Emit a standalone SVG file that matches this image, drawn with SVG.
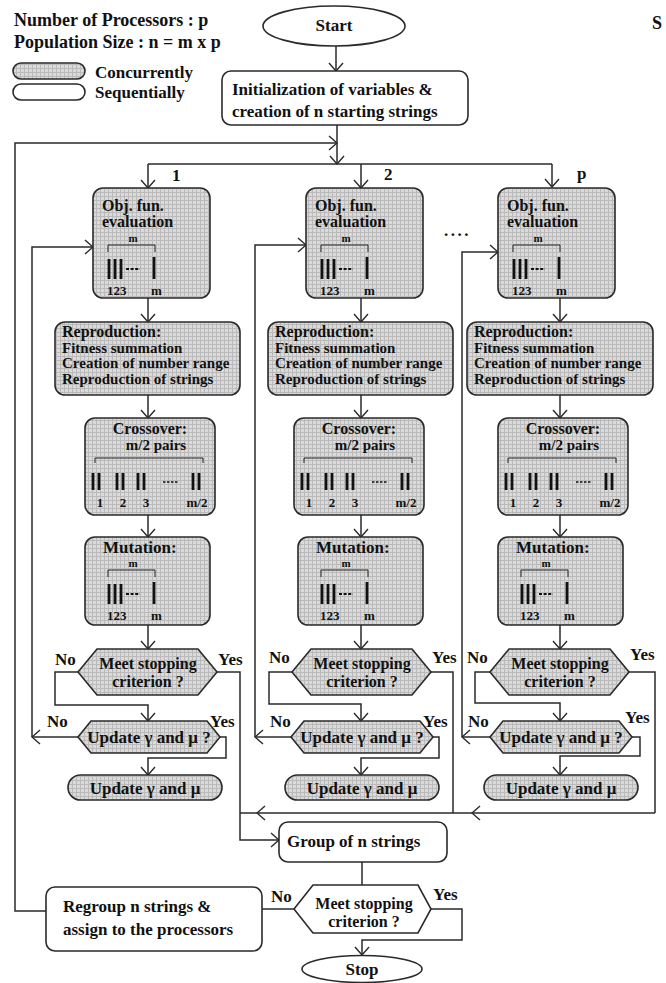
<svg xmlns="http://www.w3.org/2000/svg" xmlns:xlink="http://www.w3.org/1999/xlink" width="666" height="983" viewBox="0 0 666 983">
  <defs>
    <style>
      text { font-family: "Liberation Serif", "Times New Roman", serif; font-weight: bold; fill: #111; font-size: 17px; }
      .big { font-size: 18px; }
      .ttl { font-size: 16px; }
      .sub { font-size: 15px; }
      .tiny { font-size: 11px; }
      .num { font-size: 13px; }
      .mid { text-anchor: middle; }
      .conc { fill: url(#shade); stroke: #2a2a2a; stroke-width: 1.6; }
      .seq { fill: #fff; stroke: #2a2a2a; stroke-width: 1.6; }
      .ln { fill: none; stroke: #2a2a2a; stroke-width: 1.5; }
      .ar { marker-end: url(#ah); }
      .bar { stroke: #111; stroke-width: 2.8; }
      .thin { fill: none; stroke: #222; stroke-width: 1; }
    </style>
    <pattern id="shade" width="4" height="4" patternUnits="userSpaceOnUse">
      <rect width="4" height="4" fill="#dadada"/>
      <path d="M0,0.5H4M0.5,0V4" stroke="#bababa" stroke-width="1"/>
    </pattern>
    <marker id="ah" viewBox="0 0 10 16" refX="9" refY="8" markerWidth="10" markerHeight="16" markerUnits="userSpaceOnUse" orient="auto">
      <path d="M1,1 L9,8 L1,15" fill="none" stroke="#2a2a2a" stroke-width="1.4"/>
    </marker>
    <!-- m strings: bracket, bars 1..m and their indices -->
    <g id="mstr">
      <text class="tiny mid" x="25" y="-3">m</text>
      <path class="thin" d="M0,7V0H47V7"/>
      <line class="bar" x1="1" y1="14" x2="1" y2="34"/>
      <line class="bar" x1="7" y1="14" x2="7" y2="34"/>
      <line class="bar" x1="13" y1="14" x2="13" y2="34"/>
      <line x1="18" y1="24" x2="32" y2="24" stroke="#111" stroke-width="1.8" stroke-dasharray="3,1.6"/>
      <line class="bar" x1="46" y1="12" x2="46" y2="34"/>
      <text class="num" x="-1" y="50">123</text>
      <text class="num" x="43" y="50">m</text>
    </g>
    <!-- m/2 pairs of strings for crossover -->
    <g id="pstr">
      <path class="thin" d="M0,5V0H108V5"/>
      <line class="bar" x1="-2" y1="15" x2="-2" y2="32"/>
      <line class="bar" x1="4" y1="15" x2="4" y2="32"/>
      <line class="bar" x1="22" y1="15" x2="22" y2="32"/>
      <line class="bar" x1="28" y1="15" x2="28" y2="32"/>
      <line class="bar" x1="43" y1="15" x2="43" y2="32"/>
      <line class="bar" x1="49" y1="15" x2="49" y2="32"/>
      <line x1="68" y1="24" x2="83" y2="24" stroke="#111" stroke-width="1.6" stroke-dasharray="2.5,1.5"/>
      <line class="bar" x1="98" y1="15" x2="98" y2="32"/>
      <line class="bar" x1="104" y1="15" x2="104" y2="32"/>
      <text class="num mid" x="5" y="49">1</text>
      <text class="num mid" x="28" y="49">2</text>
      <text class="num mid" x="51" y="49">3</text>
      <text class="num mid" x="102" y="49">m/2</text>
    </g>
  </defs>

  <rect width="666" height="983" fill="#fff"/>

  <!-- legend -->
  <g id="legend">
    <text class="big" x="14" y="26">Number of Processors : p</text>
    <text class="big" x="14" y="48">Population Size : n = m x p</text>
    <rect class="conc" x="13" y="63" width="72" height="16" rx="8"/>
    <text x="95" y="78">Concurrently</text>
    <rect class="seq" x="13" y="84" width="72" height="16" rx="8"/>
    <text x="95" y="98">Sequentially</text>
  </g>
  <text class="big" x="652" y="29">S</text>

  <!-- connectors -->
  <g id="connectors">
    <path class="ln ar" d="M336,46V71"/>
    <path class="ln ar" d="M337,125V164"/>
    <path class="ln ar" d="M46,911H15V143H337"/>
    <path class="ln" d="M148,164H552"/>
    <path class="ln ar" d="M148,164V188"/>
    <path class="ln ar" d="M361,164V188"/>
    <path class="ln ar" d="M552,164V187"/>

    <!-- processor 1 -->
    <path class="ln ar" d="M148,298V322"/>
    <path class="ln ar" d="M148,395V418"/>
    <path class="ln ar" d="M148,515V537"/>
    <path class="ln ar" d="M148,625V649"/>
    <path class="ln ar" d="M78,672H55V705H148V721"/>
    <path class="ln ar" d="M217,672H240V840H279"/>
    <path class="ln ar" d="M78,737H32"/>
    <path class="ln ar" d="M32,737V247H93"/>
    <path class="ln ar" d="M220,737H226V758H148V775"/>

    <!-- processor 2 -->
    <path class="ln ar" d="M361,298V322"/>
    <path class="ln ar" d="M361,395V418"/>
    <path class="ln ar" d="M361,515V537"/>
    <path class="ln ar" d="M361,625V649"/>
    <path class="ln ar" d="M292,672H269V704H361V721"/>
    <path class="ln" d="M431,672H453V813"/>
    <path class="ln ar" d="M291,737H255"/>
    <path class="ln ar" d="M255,737V245H306"/>
    <path class="ln ar" d="M433,737H439V758H361V775"/>

    <!-- processor p -->
    <path class="ln ar" d="M560,298V322"/>
    <path class="ln ar" d="M560,395V418"/>
    <path class="ln ar" d="M560,515V537"/>
    <path class="ln ar" d="M560,625V649"/>
    <path class="ln ar" d="M490,672H475V703H560V721"/>
    <path class="ln" d="M629,672H655V813"/>
    <path class="ln ar" d="M490,737H462"/>
    <path class="ln ar" d="M462,737V252H498"/>
    <path class="ln ar" d="M632,737H640V756H560V775"/>

    <!-- collection of results -->
    <path class="ln ar" d="M655,813H472"/>
    <path class="ln ar" d="M472,813H257"/>
    <path class="ln" d="M257,813H240"/>
    <path class="ln" d="M362,862V885"/>
    <path class="ln" d="M294,909H262"/>
    <path class="ln ar" d="M431,909H462V940H362V955"/>
  </g>

  <text x="172" y="181">1</text>
  <text x="384" y="180">2</text>
  <text x="577" y="179">p</text>
  <text x="444" y="236" letter-spacing="2.5">....</text>

  <!-- sequential start -->
  <g id="start">
    <ellipse class="seq" cx="334" cy="26" rx="71" ry="20"/>
    <text class="mid" x="334" y="31">Start</text>
  </g>
  <g id="init">
    <rect class="seq" x="222" y="71" width="246" height="54" rx="9"/>
    <text x="232" y="95">Initialization of variables &amp;</text>
    <text x="232" y="117">creation of n starting strings</text>
  </g>

  <!-- processor 1 -->
  <g id="obj1">
    <rect class="conc" x="93" y="188" width="117" height="110" rx="10"/>
    <text class="ttl" x="102" y="211">Obj. fun.</text>
    <text class="ttl" x="102" y="227">evaluation</text>
    <use xlink:href="#mstr" x="108" y="245"/>
  </g>
  <g id="repro1">
    <rect class="conc" x="55" y="322" width="185" height="73" rx="10"/>
    <text class="ttl" x="62" y="337">Reproduction:</text>
    <text class="sub" x="62" y="353">Fitness summation</text>
    <text class="sub" x="62" y="368">Creation of number range</text>
    <text class="sub" x="62" y="384">Reproduction of strings</text>
  </g>
  <g id="cross1">
    <rect class="conc" x="85" y="418" width="130" height="97" rx="10"/>
    <text class="ttl mid" x="150" y="434">Crossover:</text>
    <text class="sub mid" x="156" y="450">m/2 pairs</text>
    <use xlink:href="#pstr" x="95" y="458"/>
  </g>
  <g id="mut1">
    <rect class="conc" x="85" y="537" width="125" height="88" rx="10"/>
    <text x="103" y="553">Mutation:</text>
    <use xlink:href="#mstr" x="108" y="570"/>
  </g>
  <g id="stop1">
    <polygon class="conc" points="78,672 97,649 198,649 217,672 198,695 97,695"/>
    <text class="ttl mid" x="148" y="669">Meet stopping</text>
    <text class="ttl mid" x="148" y="687">criterion ?</text>
    <text x="55" y="665">No</text>
    <text x="218" y="665">Yes</text>
  </g>
  <g id="ask1">
    <polygon class="conc" points="78,737 91,721 207,721 220,737 207,753 91,753"/>
    <text class="mid" x="149" y="743">Update γ and μ ?</text>
    <text x="47" y="727">No</text>
    <text x="210" y="727">Yes</text>
  </g>
  <g id="upd1">
    <rect class="conc" x="68" y="775" width="154" height="25" rx="12.5"/>
    <text class="mid" x="145" y="794">Update γ and μ</text>
  </g>

  <!-- processor 2 -->
  <g id="obj2">
    <rect class="conc" x="306" y="188" width="117" height="110" rx="10"/>
    <text class="ttl" x="315" y="211">Obj. fun.</text>
    <text class="ttl" x="315" y="227">evaluation</text>
    <use xlink:href="#mstr" x="321" y="245"/>
  </g>
  <g id="repro2">
    <rect class="conc" x="268" y="322" width="185" height="73" rx="10"/>
    <text class="ttl" x="275" y="337">Reproduction:</text>
    <text class="sub" x="275" y="353">Fitness summation</text>
    <text class="sub" x="275" y="368">Creation of number range</text>
    <text class="sub" x="275" y="384">Reproduction of strings</text>
  </g>
  <g id="cross2">
    <rect class="conc" x="294" y="418" width="130" height="97" rx="10"/>
    <text class="ttl mid" x="359" y="434">Crossover:</text>
    <text class="sub mid" x="365" y="450">m/2 pairs</text>
    <use xlink:href="#pstr" x="304" y="458"/>
  </g>
  <g id="mut2">
    <rect class="conc" x="298" y="537" width="125" height="88" rx="10"/>
    <text x="316" y="553">Mutation:</text>
    <use xlink:href="#mstr" x="321" y="570"/>
  </g>
  <g id="stop2">
    <polygon class="conc" points="292,672 311,649 412,649 431,672 412,695 311,695"/>
    <text class="ttl mid" x="362" y="669">Meet stopping</text>
    <text class="ttl mid" x="362" y="687">criterion ?</text>
    <text x="269" y="663">No</text>
    <text x="432" y="663">Yes</text>
  </g>
  <g id="ask2">
    <polygon class="conc" points="291,737 304,721 420,721 433,737 420,753 304,753"/>
    <text class="mid" x="362" y="743">Update γ and μ ?</text>
    <text x="270" y="727">No</text>
    <text x="423" y="727">Yes</text>
  </g>
  <g id="upd2">
    <rect class="conc" x="285" y="775" width="154" height="25" rx="12.5"/>
    <text class="mid" x="362" y="794">Update γ and μ</text>
  </g>

  <!-- processor p -->
  <g id="obj3">
    <rect class="conc" x="498" y="188" width="117" height="110" rx="10"/>
    <text class="ttl" x="507" y="211">Obj. fun.</text>
    <text class="ttl" x="507" y="227">evaluation</text>
    <use xlink:href="#mstr" x="513" y="245"/>
  </g>
  <g id="repro3">
    <rect class="conc" x="467" y="322" width="186" height="73" rx="10"/>
    <text class="ttl" x="474" y="337">Reproduction:</text>
    <text class="sub" x="474" y="353">Fitness summation</text>
    <text class="sub" x="474" y="368">Creation of number range</text>
    <text class="sub" x="474" y="384">Reproduction of strings</text>
  </g>
  <g id="cross3">
    <rect class="conc" x="498" y="418" width="130" height="97" rx="10"/>
    <text class="ttl mid" x="563" y="434">Crossover:</text>
    <text class="sub mid" x="569" y="450">m/2 pairs</text>
    <use xlink:href="#pstr" x="508" y="458"/>
  </g>
  <g id="mut3">
    <rect class="conc" x="498" y="537" width="125" height="88" rx="10"/>
    <text x="516" y="553">Mutation:</text>
    <use xlink:href="#mstr" x="521" y="570"/>
  </g>
  <g id="stop3">
    <polygon class="conc" points="490,672 509,649 610,649 629,672 610,695 509,695"/>
    <text class="ttl mid" x="560" y="669">Meet stopping</text>
    <text class="ttl mid" x="560" y="687">criterion ?</text>
    <text x="467" y="663">No</text>
    <text x="630" y="660">Yes</text>
  </g>
  <g id="ask3">
    <polygon class="conc" points="490,737 503,721 619,721 632,737 619,753 503,753"/>
    <text class="mid" x="561" y="743">Update γ and μ ?</text>
    <text x="468" y="727">No</text>
    <text x="625" y="723">Yes</text>
  </g>
  <g id="upd3">
    <rect class="conc" x="484" y="775" width="154" height="25" rx="12.5"/>
    <text class="mid" x="561" y="794">Update γ and μ</text>
  </g>

  <!-- sequential end -->
  <g id="group">
    <rect class="seq" x="279" y="822" width="168" height="40" rx="9"/>
    <text x="287" y="847">Group of n strings</text>
  </g>
  <g id="final">
    <polygon class="seq" points="294,909 313,885 418,885 431,909 418,933 313,933"/>
    <text class="ttl mid" x="364" y="909">Meet stopping</text>
    <text class="ttl mid" x="364" y="927">criterion ?</text>
    <text x="271" y="902">No</text>
    <text x="433" y="900">Yes</text>
  </g>
  <g id="regroup">
    <rect class="seq" x="46" y="887" width="216" height="64" rx="9"/>
    <text x="63" y="912">Regroup n strings &amp;</text>
    <text x="63" y="935">assign to the processors</text>
  </g>
  <g id="stop">
    <ellipse class="seq" cx="362" cy="969" rx="60" ry="13.5"/>
    <text class="mid" x="362" y="975">Stop</text>
  </g>
</svg>
